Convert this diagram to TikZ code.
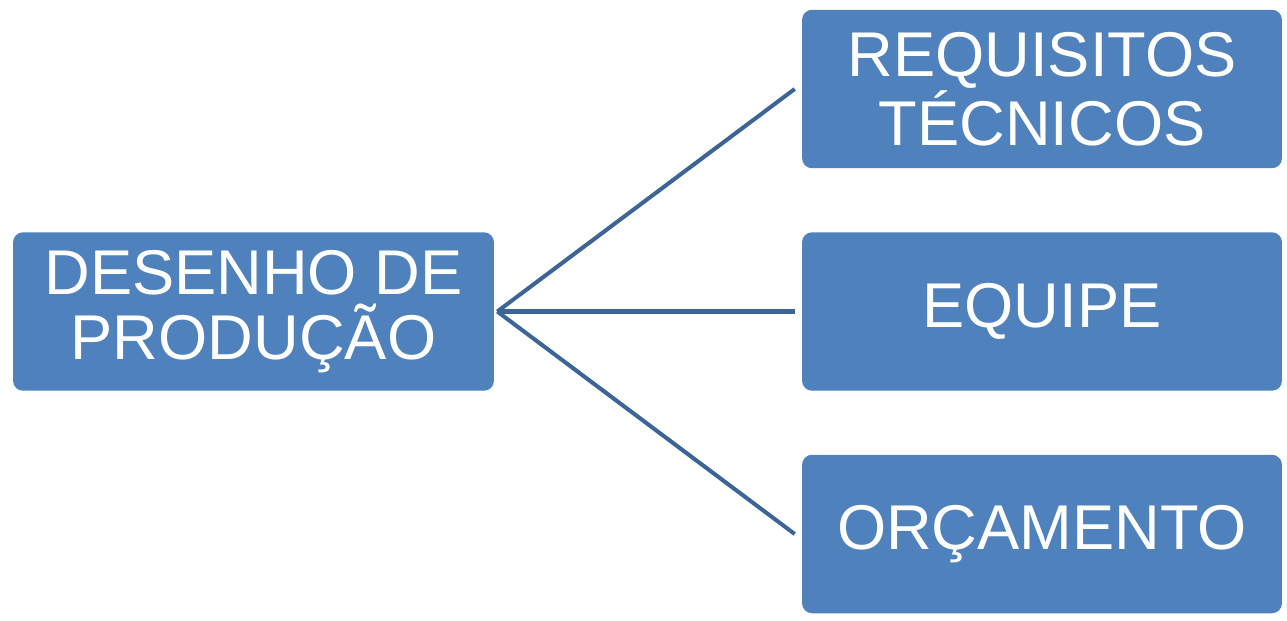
\documentclass[tikz,border=0pt]{standalone}
\usepackage{fontspec}
\setmainfont{Liberation Sans}
\usepackage{xcolor}
\usepackage{tikz}
\usetikzlibrary{calc}
\usetikzlibrary{positioning}

\definecolor{boxblue}{RGB}{79,129,189}
\definecolor{linkblue}{RGB}{60,100,150}

\tikzset{
	box/.style={draw=none,fill=boxblue,rounded corners=0.2cm,text=white,align=center,
		minimum width=9.6cm,minimum height=3.17cm,inner sep=0pt,
		font=\fontsize{36}{37}\selectfont},
	link/.style={draw=linkblue,line width=2.3pt}
}

\begin{document}
\begin{tikzpicture}[x=0.02cm,y=-0.02cm]
	\useasboundingbox (0,0) rectangle (1287,620);
	\node[box,minimum width=9.62cm] (plan) at (253.5,311.5) {DESENHO DE\\PRODUÇÃO};
	\node[box] (req) at (1042,89) {REQUISITOS\\TÉCNICOS};
	\node[box] (team) at (1042,311.5) {EQUIPE};
	\node[box] (budget) at (1042,534) {ORÇAMENTO};
	\coordinate (hub) at ($(plan.east)+(3,0)$);
	% connectors stop a little short of the boxes
	\draw[link] (hub) -- ($(req.west)+(-7,0)$);
	\draw[link] (hub) -- ($(team.west)+(-7,0)$);
	\draw[link] (hub) -- ($(budget.west)+(-7,0)$);
\end{tikzpicture}
\end{document}
